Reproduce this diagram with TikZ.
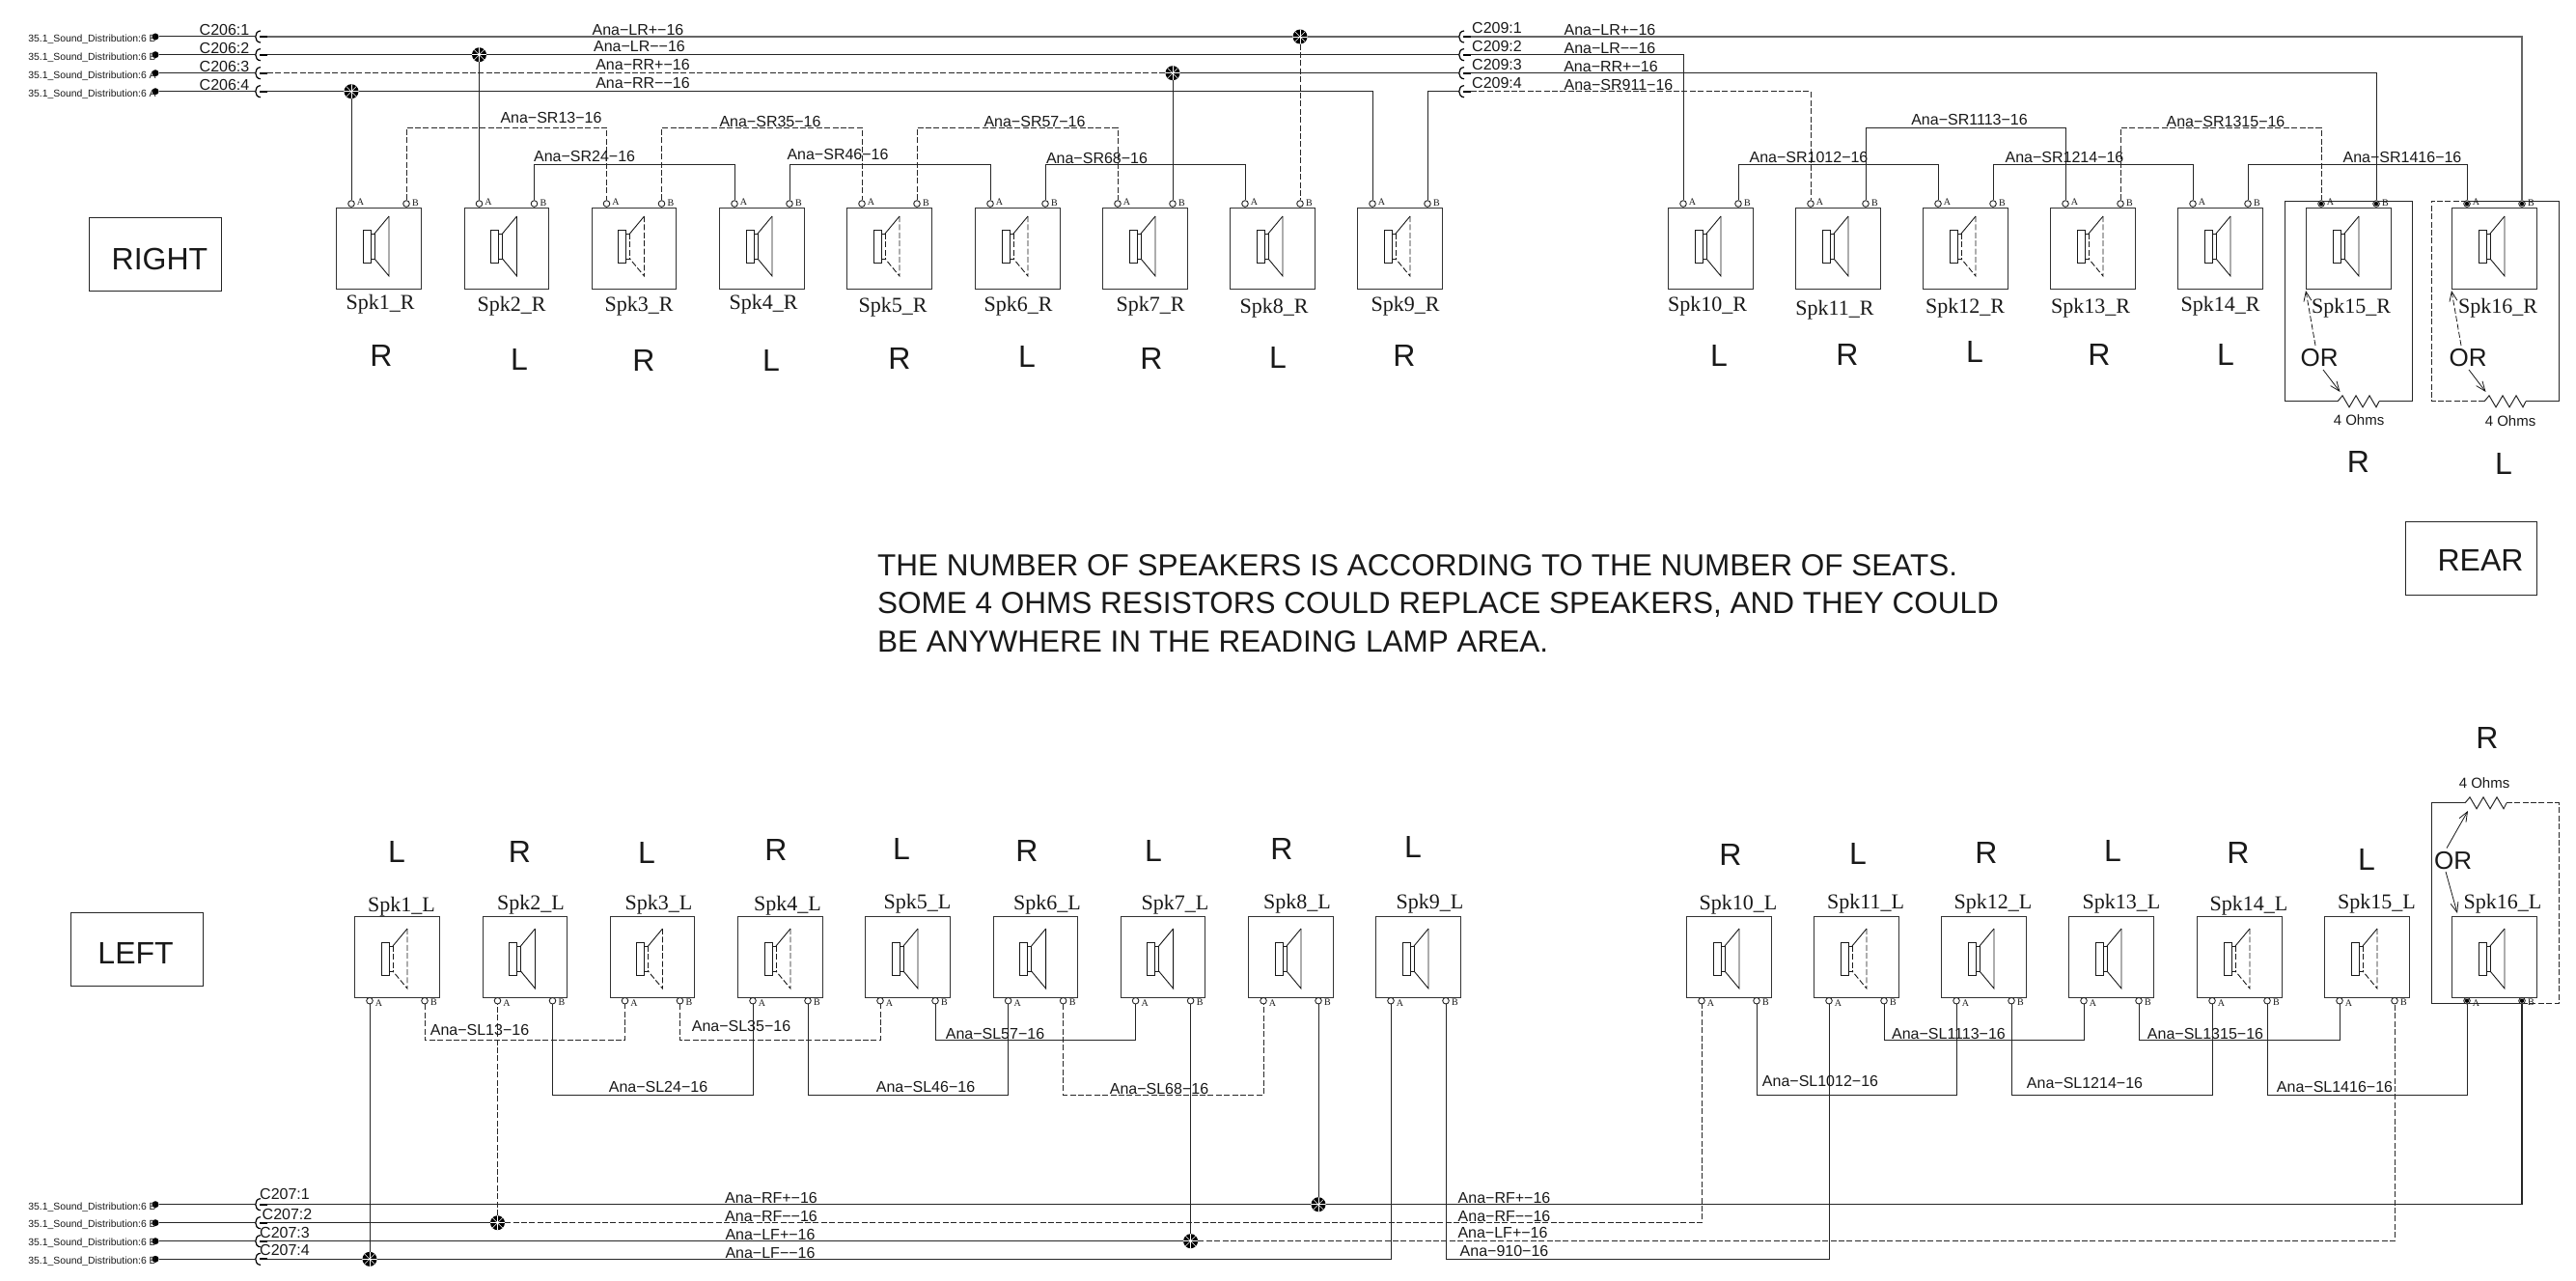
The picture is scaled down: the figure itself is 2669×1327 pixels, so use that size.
\documentclass[tikz,border=0pt]{standalone}
\usepackage{fontspec}
\setmainfont{Liberation Sans}
\newfontfamily\serf{Liberation Serif}
\usetikzlibrary{arrows.meta,calc}
\newcount\tc
\newcommand\txt[4]{\global\advance\tc by 1 \node[#1] (t\the\tc) at (#2,#3) {#4};}
\tikzset{
 x=1pt,y=-1pt,
 every node/.style={inner sep=0pt,text=black!90},
 wire/.style={draw=black!85,line width=1pt},
 wthick/.style={draw=black!60,line width=1.9pt},
 dsh/.style={dash pattern=on 6pt off 2.4pt},
 spkbox/.style={draw=black!80,line width=1.1pt,anchor=north west,minimum width=87.5pt,minimum height=83.5pt},
 cone/.style={draw=black!90,line width=.9pt},
 term/.style={circle,draw=black!85,fill=white,line width=.9pt,minimum size=6.6pt},
 pinlet/.style={font=\serf\fontsize{10}{12}\selectfont},
 spklab/.style={font=\serf\fontsize{22}{24}\selectfont},
 side/.style={font=\fontsize{32}{34}\selectfont},
 wl/.style={font=\fontsize{16}{18}\selectfont},
 ohm/.style={font=\fontsize{15}{17}\selectfont},
 or/.style={font=\fontsize{26}{28}\selectfont},
 dist/.style={font=\fontsize{10.4}{12}\selectfont},
 title/.style={draw=black!85,line width=1.4pt,anchor=north west,font=\fontsize{32}{34}\selectfont},
 jn/.style={circle,fill=black,minimum size=15pt,path picture={\foreach \a in {0,45,90,135}{\draw[white,line width=.5pt] ($(path picture bounding box.center)+(\a:8pt)$) -- ($(path picture bounding box.center)+(\a+180:8pt)$);}}},
 dotn/.style={circle,fill=black,minimum size=7pt},
 oarrow/.style={draw=black!90,line width=.8pt,-{Straight Barb[length=10pt,width=8pt]}},
}
% speaker drawing: id, x, top y, style of the cone, vertical offset
\newcommand\spkbody[5]{%
 \node[spkbox] (#1) at (#2,#3) {};
 \begin{scope}[shift={(#2,#3)}]
  \draw[cone] (28,#5+14) rectangle (36,#5+48);
  \draw[cone,#4] (40,#5+18) -- (40,#5+44);
  \draw[cone] (36,#5+18) -- (40,#5+18) (36,#5+44) -- (40,#5+44);
  \draw[cone] (40,#5+18) -- (55,#5);
  \draw[cone,#4] (55,#5) -- (55,#5+62) -- (40,#5+44);
 \end{scope}}
% id x style labelx labely letterx lettery letter
\newcommand\spkR[8]{%
 \spkbody{s#1R}{#2}{215}{#3}{9}
 \node[term] (s#1Ra) at (#2+16,211) {};
 \node[term] (s#1Rb) at (#2+73,211) {};
 \txt{pinlet}{#2+25.5}{209}{A}
 \txt{pinlet}{#2+82.5}{210}{B}
 \txt{spklab}{#4}{#5}{Spk#1\_R}
 \txt{side}{#6}{#7}{#8}}
\newcommand\spkL[8]{%
 \spkbody{s#1L}{#2}{949}{#3}{13}
 \node[term] (s#1La) at (#2+16,1036.7) {};
 \node[term] (s#1Lb) at (#2+73,1036.7) {};
 \txt{pinlet}{#2+25.5}{1039}{A}
 \txt{pinlet}{#2+82.5}{1038}{B}
 \txt{spklab}{#4}{#5}{Spk#1\_L}
 \txt{side}{#6}{#7}{#8}}
% bus between two terminals at height y
\newcommand\bus[4]{\draw[wire,#4] (#1) -- (#1 |- 0,#3) -- (#2 |- 0,#3) -- (#2);}
% connector symbol
\newcommand\conn[3]{%
 \coordinate (#1) at (#2+13,#3);
 \coordinate (#1L) at (#2,#3);
 \draw[black,line width=1.2pt] (#2+6,#3-6) .. controls (#2-1,#3-6) and (#2-1,#3+6) .. (#2+6,#3+6);
 \draw[black,line width=2pt] (#2+5,#3) -- (#2+13,#3);}
% source dot with text
\newcommand\src[4]{%
 \node[dotn] (#1) at (161,#2) {};
 \txt{dist}{95.5}{#3}{35.1\_Sound\_Distribution:6 #4}}
\newcommand\zig[1]{-- ++(0,0) -- ++(5,-6) -- ++(7,12) -- ++(7,-12) -- ++(7,12) -- ++(7,-12) -- ++(7,12) -- ++(3,-6) #1}
\begin{document}
\begin{tikzpicture}
\useasboundingbox (0,0) rectangle (2669,1327);
\fill[white] (0,0) rectangle (2669,1327);

% wrap frames of the rear speakers
\draw[wire] (2422,415.8) -- (2367.7,415.8) -- (2367.7,208) -- (2499.8,208) -- (2499.8,415.8) -- (2465,415.8);
\draw[wire] (2422,415.8) \zig{};
\draw[wire,dsh] (2574,415.8) -- (2519,415.8) -- (2519,208) -- (2556,208);
\draw[wire] (2556,208) -- (2651,208) -- (2651,415.8) -- (2617,415.8);
\draw[wire] (2574,415.8) \zig{};
\draw[wire] (2554,831.8) -- (2519,831.8) -- (2519,1039.6) -- (2613,1039.6);
\draw[wire,dsh] (2613,1039.6) -- (2651,1039.6) -- (2651,831.8) -- (2597,831.8);
\draw[wire] (2554,831.8) \zig{};

% right row
\spkR{1}{348}{solid}{394}{315}{395}{368}{R}
\spkR{2}{480.5}{solid}{530}{317}{538}{372}{L}
\spkR{3}{612.5}{dsh}{662}{317}{667}{373}{R}
\spkR{4}{745}{solid}{791}{315}{799}{373}{L}
\spkR{5}{877}{dsh}{925}{318}{932}{371}{R}
\spkR{6}{1010}{dsh}{1055}{317}{1064}{369}{L}
\spkR{7}{1142}{solid}{1192}{317}{1193}{371}{R}
\spkR{8}{1274}{solid}{1320}{319}{1324}{370}{L}
\spkR{9}{1406}{dsh}{1456}{317}{1455}{368}{R}
\spkR{10}{1728}{solid}{1769}{317}{1781}{368}{L}
\spkR{11}{1860}{solid}{1901}{321}{1914}{367}{R}
\spkR{12}{1992}{dsh}{2036}{319}{2046}{364}{L}
\spkR{13}{2124}{dsh}{2166}{319}{2175}{367}{R}
\spkR{14}{2256}{solid}{2300.5}{317}{2306}{367}{L}
\spkR{15}{2389}{solid}{2436}{319}{2443.5}{478}{R}
\spkR{16}{2540}{solid}{2588}{319}{2594}{480}{L}
% left row
\spkL{1}{367}{dsh}{416}{939}{411}{882.7}{L}
\spkL{2}{499.5}{solid}{550}{937}{538.5}{882.7}{R}
\spkL{3}{631.5}{dsh}{682.5}{937}{670}{883}{L}
\spkL{4}{764}{dsh}{816}{937.7}{804}{880.7}{R}
\spkL{5}{896}{solid}{950.5}{936}{934}{879}{L}
\spkL{6}{1028.6}{solid}{1085}{937}{1064}{881}{R}
\spkL{7}{1160.6}{solid}{1217.5}{937}{1195}{881}{L}
\spkL{8}{1293}{solid}{1344}{936}{1328}{879}{R}
\spkL{9}{1425}{solid}{1481.5}{936}{1464}{877}{L}
\spkL{10}{1747}{solid}{1801}{937}{1793}{885}{R}
\spkL{11}{1879}{dsh}{1933}{936.6}{1925}{884.6}{L}
\spkL{12}{2011}{solid}{2065}{936}{2058}{883}{R}
\spkL{13}{2143}{solid}{2198}{936}{2189}{881}{L}
\spkL{14}{2276}{dsh}{2330}{938}{2319}{883}{R}
\spkL{15}{2408}{dsh}{2462.5}{936}{2452}{890.6}{L}
\spkL{16}{2540}{solid}{2593}{936}{2577}{764}{R}

% titles
\node[title,minimum width=136.5pt,minimum height=76pt] (right) at (92,225) {};
\txt{font=\fontsize{32}{34}\selectfont}{165.5}{268}{RIGHT}
\node[title,minimum width=136pt,minimum height=76pt] (rear) at (2492,540) {};
\txt{font=\fontsize{32}{34}\selectfont}{2570}{580}{REAR}
\node[title,minimum width=136.5pt,minimum height=76pt] (left) at (73,945) {};
\txt{font=\fontsize{32}{34}\selectfont}{140.6}{987}{LEFT}
\node[anchor=west,align=left,font=\fontsize{31.5}{39.5}\selectfont] (note) at (909,625)
 {THE NUMBER OF SPEAKERS IS ACCORDING TO THE NUMBER OF SEATS.\\SOME 4 OHMS RESISTORS COULD REPLACE SPEAKERS, AND THEY COULD\\BE ANYWHERE IN THE READING LAMP AREA.};

% top connectors
\src{d1}{38}{40.7}{B}\src{d2}{56.7}{59.3}{B}\src{d3}{75.7}{78.3}{A}\src{d4}{94.7}{97.3}{A}
\conn{ca}{264}{38}\conn{cb}{264}{56.7}\conn{cc}{264}{75.7}\conn{cd}{264}{94.7}
\conn{ea}{1511}{38}\conn{eb}{1511}{56.7}\conn{ec}{1511}{75.7}\conn{ed}{1511}{94.7}
\foreach \a/\b in {1/a,2/b,3/c,4/d}{\draw[wire] (d\a) -- (c\b L);}
\txt{wl}{232.5}{31}{C206:1}\txt{wl}{232.5}{50}{C206:2}\txt{wl}{232.5}{69}{C206:3}\txt{wl}{232.5}{88}{C206:4}
\txt{wl}{1551}{29.3}{C209:1}\txt{wl}{1551}{48}{C209:2}\txt{wl}{1551}{67}{C209:3}\txt{wl}{1551}{86}{C209:4}

% top junctions
\node[jn] (ja) at (s8Rb |- ca) {};
\node[jn] (jb) at (s2Ra |- cb) {};
\node[jn] (jc) at (s7Rb |- cc) {};
\node[jn] (jd) at (s1Ra |- cd) {};
\draw[wthick] (ca) -- (ja) -- (eaL);
\draw[wthick] (ea) -- (s16Rb |- ea) -- (s16Rb);
\draw[wire] (cb) -- (jb) -- (ebL);
\draw[wire] (eb) -- (s10Ra |- eb) -- (s10Ra);
\draw[wire,dsh] (cc) -- (jc);
\draw[wire] (jc) -- (ecL);
\draw[wire] (ec) -- (s15Rb |- ec) -- (s15Rb);
\draw[wire] (cd) -- (jd) -- (s9Ra |- cd) -- (s9Ra);
\draw[wire] (s9Rb) -- (s9Rb |- ed) -- (edL);
\draw[wire,dsh] (ed) -- (s11Ra |- ed) -- (s11Ra);
\draw[wire,dsh] (ja) -- (s8Rb);
\draw[wire] (jb) -- (s2Ra);
\draw[wire] (jc) -- (s7Rb);
\draw[wire] (jd) -- (s1Ra);
\txt{wl}{661}{30.7}{Ana−LR+−16}\txt{wl}{662.5}{48}{Ana−LR−−16}\txt{wl}{666}{67}{Ana−RR+−16}\txt{wl}{666}{86}{Ana−RR−−16}
\txt{wl}{1668}{30.7}{Ana−LR+−16}\txt{wl}{1668}{50}{Ana−LR−−16}\txt{wl}{1669}{68.7}{Ana−RR+−16}\txt{wl}{1677}{88}{Ana−SR911−16}

% right-row buses
\bus{s1Rb}{s3Ra}{132.3}{dsh}
\bus{s3Rb}{s5Ra}{132.3}{dsh}
\bus{s5Rb}{s7Ra}{132.3}{dsh}
\bus{s2Rb}{s4Ra}{170.3}{solid}
\bus{s4Rb}{s6Ra}{170.3}{solid}
\bus{s6Rb}{s8Ra}{170.3}{solid}
\bus{s10Rb}{s12Ra}{170.3}{solid}
\bus{s11Rb}{s13Ra}{132.4}{solid}
\bus{s12Rb}{s14Ra}{170.3}{solid}
\bus{s13Rb}{s15Ra}{132.4}{dsh}
\bus{s14Rb}{s16Ra}{170.3}{solid}
\txt{wl}{571}{122}{Ana−SR13−16}\txt{wl}{605.6}{162}{Ana−SR24−16}\txt{wl}{798}{125.7}{Ana−SR35−16}\txt{wl}{868}{160}{Ana−SR46−16}
\txt{wl}{1072}{125.7}{Ana−SR57−16}\txt{wl}{1136.5}{163.7}{Ana−SR68−16}\txt{wl}{1874}{163}{Ana−SR1012−16}\txt{wl}{2040.5}{123.7}{Ana−SR1113−16}
\txt{wl}{2139}{163}{Ana−SR1214−16}\txt{wl}{2306}{125.7}{Ana−SR1315−16}\txt{wl}{2489}{163}{Ana−SR1416−16}
\fill (s15Ra) circle (2.2) (s15Rb) circle (2.2) (s16Ra) circle (2.2) (s16Rb) circle (2.2);

% rear annotations, right
\txt{ohm}{2444}{435}{4 Ohms}\txt{ohm}{2601}{436}{4 Ohms}
\txt{or}{2403}{371}{OR}\txt{or}{2557}{371}{OR}
\draw[oarrow,dsh] (2399,358) -- (2389,301);
\draw[oarrow] (2407,383) -- (2424.5,406);
\draw[oarrow,dsh] (2550,358) -- (2540,301);
\draw[oarrow] (2558,383) -- (2575.5,406);

% bottom connectors
\src{f1}{1247.7}{1250.7}{B}\src{f2}{1266.7}{1269}{B}\src{f3}{1285.7}{1288}{B}\src{f4}{1304.3}{1307}{B}
\conn{ga}{264}{1247.7}\conn{gb}{264}{1266.7}\conn{gc}{264}{1285.7}\conn{gd}{264}{1304.3}
\foreach \a/\b in {1/a,2/b,3/c,4/d}{\draw[wire] (f\a) -- (g\b L);}
\txt{wl}{295}{1237}{C207:1}\txt{wl}{297.5}{1258}{C207:2}\txt{wl}{295}{1277}{C207:3}\txt{wl}{295}{1295}{C207:4}

\node[jn] (ka) at (s8Lb |- ga) {};
\node[jn] (kb) at (s2La |- gb) {};
\node[jn] (kc) at (s7Lb |- gc) {};
\node[jn] (kd) at (s1La |- gd) {};
\draw[wire,line width=1.5pt] (ga) -- (ka) -- (s16Lb |- ga) -- (s16Lb);
\draw[wire] (gb) -- (kb);
\draw[wire,dsh] (kb) -- (s10La |- gb) -- (s10La);
\draw[wire] (gc) -- (kc);
\draw[wire,dsh] (kc) -- (s15Lb |- gc) -- (s15Lb);
\draw[wire] (gd) -- (kd) -- (s9La |- gd) -- (s9La);
\draw[wire] (s9Lb) -- (s9Lb |- gd) -- (s11La |- gd) -- (s11La);
\draw[wire] (ka) -- (s8Lb);
\draw[wire,dsh] (kb) -- (s2La);
\draw[wire] (kc) -- (s7Lb);
\draw[wire] (kd) -- (s1La);
\txt{wl}{799}{1240.7}{Ana−RF+−16}\txt{wl}{799}{1259.7}{Ana−RF−−16}\txt{wl}{798}{1278.7}{Ana−LF+−16}\txt{wl}{798}{1297.7}{Ana−LF−−16}
\txt{wl}{1558.5}{1240.7}{Ana−RF+−16}\txt{wl}{1558.5}{1259.7}{Ana−RF−−16}\txt{wl}{1557}{1276.7}{Ana−LF+−16}\txt{wl}{1558.5}{1295.7}{Ana−910−16}

% left-row buses
\bus{s1Lb}{s3La}{1077.7}{dsh}
\bus{s3Lb}{s5La}{1077.7}{dsh}
\bus{s5Lb}{s7La}{1077.7}{solid}
\bus{s2Lb}{s4La}{1134.3}{solid}
\bus{s4Lb}{s6La}{1134.3}{solid}
\bus{s6Lb}{s8La}{1134.3}{dsh}
\bus{s10Lb}{s12La}{1134.3}{solid}
\bus{s11Lb}{s13La}{1077.7}{solid}
\bus{s12Lb}{s14La}{1134.3}{solid}
\bus{s13Lb}{s15La}{1077.7}{solid}
\bus{s14Lb}{s16La}{1134.3}{solid}
\txt{wl}{497}{1067}{Ana−SL13−16}\txt{wl}{682}{1125.7}{Ana−SL24−16}\txt{wl}{768}{1062.7}{Ana−SL35−16}\txt{wl}{959}{1125.7}{Ana−SL46−16}
\txt{wl}{1031}{1070.7}{Ana−SL57−16}\txt{wl}{1201}{1127.7}{Ana−SL68−16}\txt{wl}{1886}{1120}{Ana−SL1012−16}\txt{wl}{2019}{1070.7}{Ana−SL1113−16}
\txt{wl}{2160}{1122}{Ana−SL1214−16}\txt{wl}{2285}{1070.7}{Ana−SL1315−16}\txt{wl}{2419}{1126}{Ana−SL1416−16}
\fill (s16La) circle (2.2) (s16Lb) circle (2.2);

% rear annotations, left
\txt{ohm}{2574}{811}{4 Ohms}
\txt{or}{2541.7}{892}{OR}
\draw[oarrow] (2535,878.6) -- (2557,840);
\draw[oarrow] (2534,903) -- (2546,946);
\end{tikzpicture}
\end{document}
